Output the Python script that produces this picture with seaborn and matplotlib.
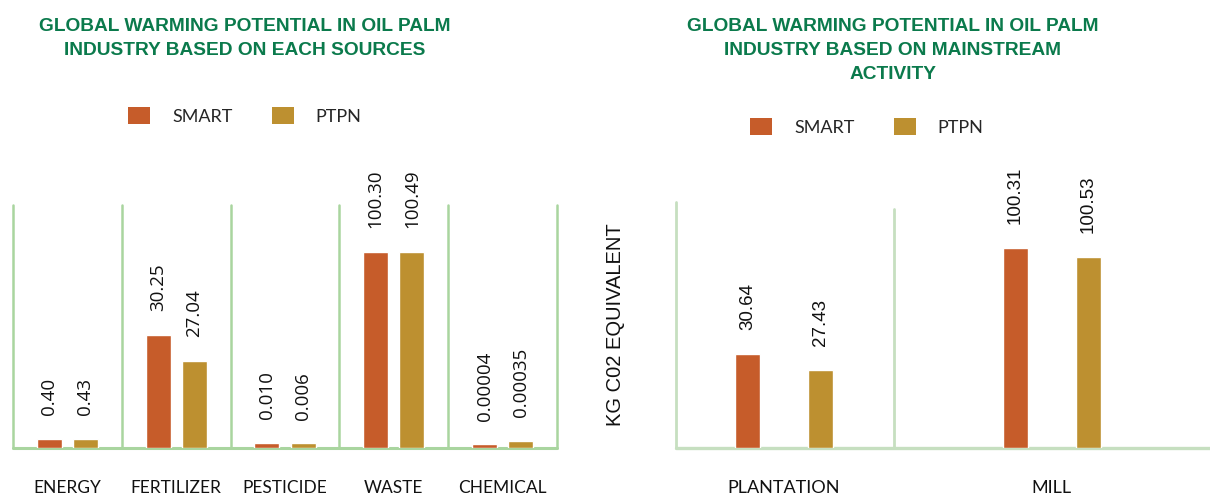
import matplotlib
matplotlib.use("Agg")
import matplotlib.pyplot as plt
from matplotlib.patches import Patch
import numpy as np
import pandas as pd
import seaborn as sns

# ---------------- data ----------------
series = ["SMART", "PTPN"]
series_colors = ["#C65C2A", "#BD9030"]

sources = ["ENERGY", "FERTILIZER", "PESTICIDE", "WASTE", "CHEMICAL"]
# bar lengths as drawn in the reference (same units as the labels, WASTE = 100.3)
smart_src_bar = [4.6, 57.8, 2.6, 100.3, 1.9]
ptpn_src_bar = [4.6, 44.5, 2.4, 100.3, 3.6]
smart_src_label = ["0.40", "30.25", "0.010", "100.30", "0.00004"]
ptpn_src_label = ["0.43", "27.04", "0.006", "100.49", "0.00035"]

activities = ["PLANTATION", "MILL"]
smart_act_bar = [47.1, 100.3]
ptpn_act_bar = [39.1, 95.8]
smart_act_label = ["30.64", "100.31"]
ptpn_act_label = ["27.43", "100.53"]

title_left = "GLOBAL WARMING POTENTIAL IN OIL PALM\nINDUSTRY BASED ON EACH SOURCES"
title_right = "GLOBAL WARMING POTENTIAL IN OIL PALM\nINDUSTRY BASED ON MAINSTREAM\nACTIVITY"
y_label = "KG C02 EQUIVALENT"

df_src = pd.DataFrame({
    "category": sources * 2,
    "series": ["SMART"] * len(sources) + ["PTPN"] * len(sources),
    "value": smart_src_bar + ptpn_src_bar,
})
df_act = pd.DataFrame({
    "category": activities * 2,
    "series": ["SMART"] * len(activities) + ["PTPN"] * len(activities),
    "value": smart_act_bar + ptpn_act_bar,
})

# ---------------- style ----------------
sns.set_theme(style="white")
plt.rcParams["font.family"] = ["Liberation Sans", "DejaVu Sans"]
NARROW = ["Lato", "Liberation Sans", "DejaVu Sans"]
TITLE_GREEN = "#0B7A4C"
GRID_L = "#A9D59F"
GRID_R = "#C6DFC0"

W, H = 1210, 495
fig = plt.figure(figsize=(W / 100, H / 100), dpi=100)


def px_axes(l, t, r, b):
    return fig.add_axes([l / W, 1 - b / H, (r - l) / W, (b - t) / H])


ax1 = px_axes(13, 205, 557, 448)
ax2 = px_axes(676, 202, 1210, 448)

sns.barplot(data=df_src, x="category", y="value", hue="series", order=sources,
            hue_order=series, palette=series_colors, saturation=1,
            width=0.664, gap=0.307, ax=ax1, legend=False)
sns.barplot(data=df_act, x="category", y="value", hue="series", order=activities,
            hue_order=series, palette=series_colors, saturation=1,
            width=0.545, gap=0.659, ax=ax2, legend=False)

for ax in (ax1, ax2):
    for s in ax.spines.values():
        s.set_visible(False)
    ax.set_xlabel("")
    ax.set_ylabel("")
    ax.set_yticks([])
    ax.tick_params(axis="x", length=0, pad=23)
    ax.set_facecolor("none")

# left panel frame lines
ax1.set_xlim(-0.5, len(sources) - 0.5)
ax1.set_ylim(0, 124.35)
for xb in np.arange(-0.5, len(sources)):
    ax1.axvline(xb, color=GRID_L, lw=1.8, zorder=0, clip_on=False)
ax1.axhline(0, color=GRID_L, lw=2.2, zorder=0.5, clip_on=False)
ax1.set_xticks(range(len(sources)))
ax1.set_xticklabels(sources, fontfamily=NARROW, fontsize=12.5, color="#111111")

# right panel frame lines
ax2.set_xlim(-0.403, 1.59)
ax2.set_ylim(0, 123.4)
ax2.axvline(-0.403, color=GRID_R, lw=2, zorder=0, clip_on=False)
ax2.axvline(0.41, ymax=0.9715, color=GRID_R, lw=2, zorder=0, clip_on=False)
ax2.axhline(0, color=GRID_R, lw=2.4, zorder=0.5, clip_on=False)
ax2.set_xticks(range(len(activities)))
ax2.set_xticklabels(activities, fontfamily=NARROW, fontsize=13, color="#111111")

# value labels
for cont, labs in zip(ax1.containers, [smart_src_label, ptpn_src_label]):
    ax1.bar_label(cont, labels=labs, rotation=90, padding=17, fontsize=13.5,
                  fontfamily=["Open Sans", "DejaVu Sans"], color="#111111", clip_on=False)
for cont, labs in zip(ax2.containers, [smart_act_label, ptpn_act_label]):
    ax2.bar_label(cont, labels=labs, rotation=90, padding=17, fontsize=13.5,
                  fontfamily=["Liberation Sans", "DejaVu Sans"], color="#111111", clip_on=False)

# titles
fig.text(245 / W, 1 - 18 / H, title_left, ha="center", va="top", fontsize=13.8,
         fontweight="bold", color=TITLE_GREEN, linespacing=1.55)
fig.text(893 / W, 1 - 18 / H, title_right, ha="center", va="top", fontsize=13.8,
         fontweight="bold", color=TITLE_GREEN, linespacing=1.55)

# legends
handles = [Patch(facecolor=c, edgecolor="none") for c in series_colors]
leg_kw = dict(ncol=2, loc="center", frameon=False, bbox_transform=fig.transFigure,
              prop={"family": NARROW, "size": 13}, handlelength=1.22, handleheight=1.05,
              handletextpad=1.2, columnspacing=2.2, borderpad=0, borderaxespad=0)
ax1.legend(handles, series, bbox_to_anchor=(245 / W, 1 - 116 / H), **leg_kw)
ax2.legend(handles, series, bbox_to_anchor=(867 / W, 1 - 127 / H), **leg_kw)

# y axis label
fig.text(615.5 / W, 1 - 325 / H, y_label, rotation=90, ha="center", va="center",
         fontsize=14.5, color="#111111")

fig.savefig("out.png", dpi=100)
